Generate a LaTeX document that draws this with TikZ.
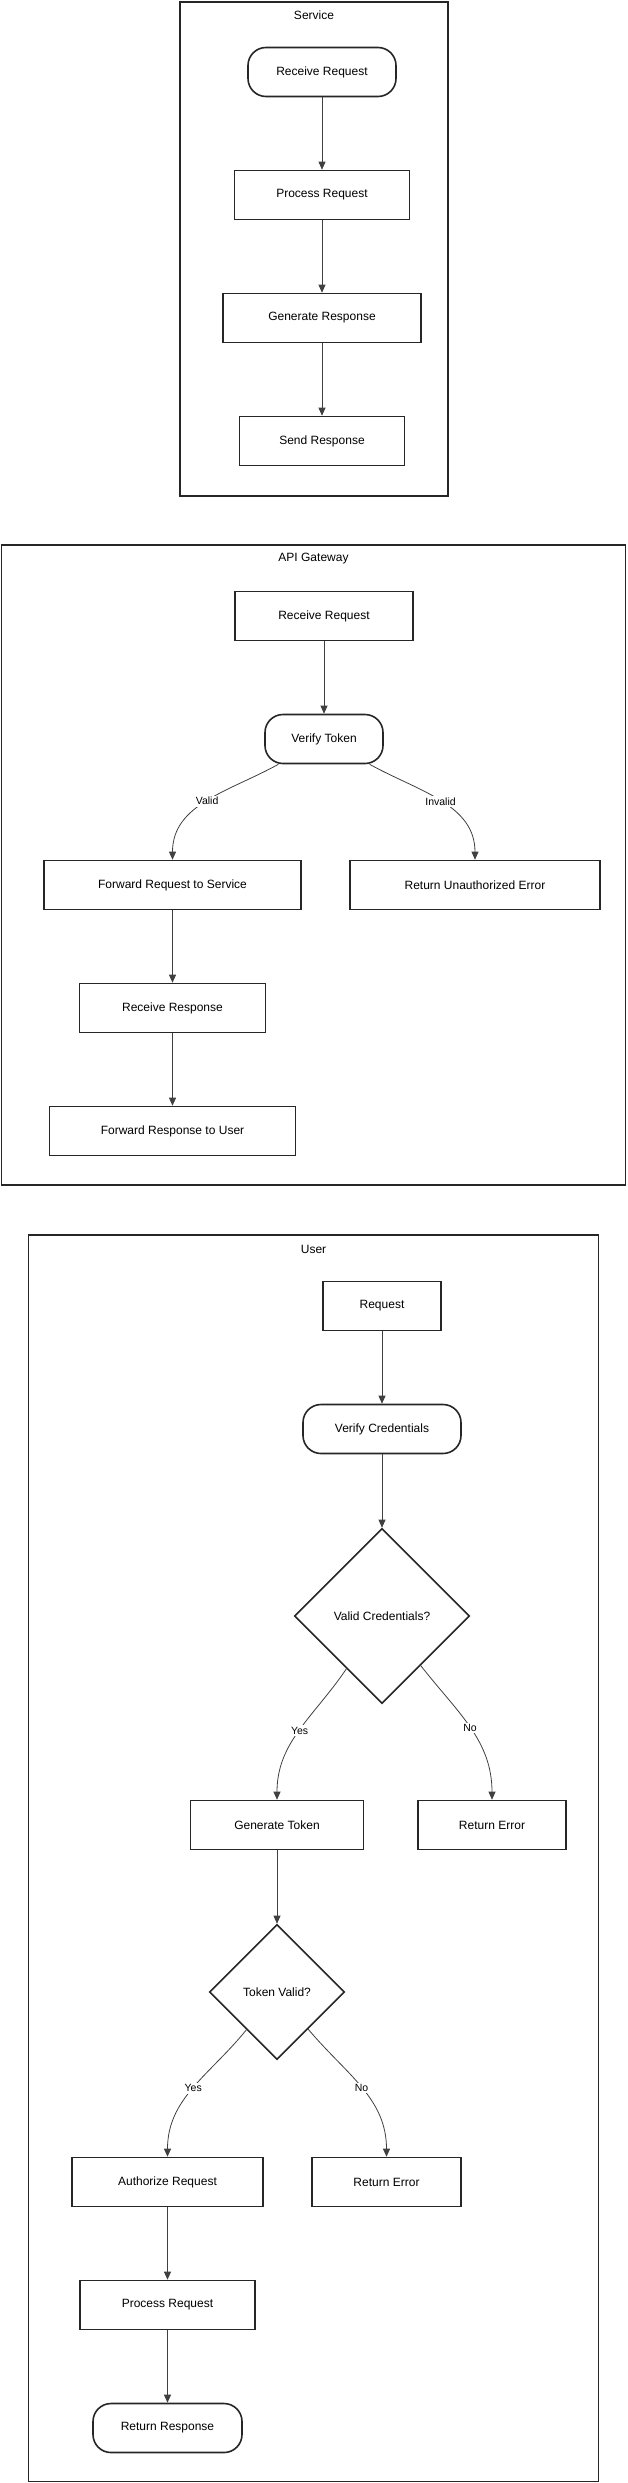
\documentclass[tikz,border=0pt]{standalone}
\usepackage{fontspec}
\setmainfont{Liberation Sans}
\usetikzlibrary{positioning,shapes.geometric,arrows.meta}

\begin{document}
\begin{tikzpicture}[
    x=1pt, y=-1pt,
    node distance=72.4pt,
    font=\fontsize{12}{14}\selectfont,
    % Node styles
    stepbox/.style={draw=black!85, line width=1.6pt, fill=white, minimum height=49pt, inner sep=2pt},
    roundbox/.style={stepbox, rounded corners=18pt},
    decision/.style={draw=black!85, line width=1.6pt, fill=white, diamond, aspect=1, inner sep=0pt},
    cluster/.style={draw=black!85, line width=1.6pt},
    title/.style={inner sep=0pt},
    arrow/.style={-{Triangle[length=8pt,width=7pt]}, line width=0.8pt, draw=black!75},
    lbl/.style={font=\fontsize{10.5}{12}\selectfont, fill=white, inner sep=1.5pt},
]
    \useasboundingbox (0,0) rectangle (627,2483);

    % Swimlane frames
    \node[cluster, minimum width=268pt, minimum height=494pt] (svcbox) at (314,249) {};
    \node[title] (svctitle) at (314,15) {Service};
    \node[cluster, minimum width=624pt, minimum height=640pt] (gwbox) at (313.5,865) {};
    \node[title] (gwtitle) at (313.5,559) {API Gateway};
    \node[cluster, minimum width=570pt, minimum height=1246.5pt] (userbox) at (313.5,1858.25) {};
    \node[title] (usertitle) at (313.5,1249) {User};

    % Service flow
    \node[roundbox, minimum width=148pt] (srecv) at (322,72) {Receive Request};
    \node[stepbox, minimum width=175pt, below=of srecv] (sproc) {Process Request};
    \node[stepbox, minimum width=198pt, below=of sproc] (sgen) {Generate Response};
    \node[stepbox, minimum width=165pt, below=of sgen] (ssend) {Send Response};

    % API gateway flow
    \node[stepbox, minimum width=178pt] (grecv) at (324,616) {Receive Request};
    \node[roundbox, minimum width=118pt, below=of grecv] (vtok) {Verify Token};
    \node[stepbox, minimum width=257pt, below=95.4pt of vtok, xshift=-151.5pt] (fwdsvc) {Forward Request to Service};
    \node[stepbox, minimum width=250pt, below=95.4pt of vtok, xshift=151pt] (unauth) {Return Unauthorized Error};
    \node[stepbox, minimum width=186pt, below=of fwdsvc] (grecvresp) {Receive Response};
    \node[stepbox, minimum width=246pt, below=of grecvresp] (fwduser) {Forward Response to User};

    % User flow
    \node[stepbox, minimum width=118pt] (ureq) at (382,1306) {Request};
    \node[roundbox, minimum width=158pt, below=of ureq] (vcred) {Verify Credentials};
    \node[decision, minimum size=175pt, below=73.4pt of vcred] (credok) {Valid Credentials?};
    \node[stepbox, minimum width=173pt, below=95.4pt of credok, xshift=-105pt] (gentok) {Generate Token};
    \node[stepbox, minimum width=148pt, below=95.4pt of credok, xshift=110pt] (credfail) {Return Error};
    \node[decision, minimum size=135pt, below=73.4pt of gentok] (tokok) {Token Valid?};
    \node[stepbox, minimum width=191pt, below=96.4pt of tokok, xshift=-109.5pt] (authreq) {Authorize Request};
    \node[stepbox, minimum width=149pt, below=96.4pt of tokok, xshift=109.5pt] (tokfail) {Return Error};
    \node[stepbox, minimum width=175pt, below=of authreq] (uproc) {Process Request};
    \node[roundbox, minimum width=149pt, below=of uproc] (uresp) {Return Response};

    % Connections
    \draw[arrow] (srecv) -- (sproc);
    \draw[arrow] (sproc) -- (sgen);
    \draw[arrow] (sgen) -- (ssend);

    \draw[arrow] (grecv) -- (vtok);
    \draw[arrow] (vtok) to[out=209, in=90] node[lbl] {Valid} (fwdsvc);
    \draw[arrow] (vtok) to[out=-29, in=90] node[lbl] {Invalid} (unauth);
    \draw[arrow] (fwdsvc) -- (grecvresp);
    \draw[arrow] (grecvresp) -- (fwduser);

    \draw[arrow] (ureq) -- (vcred);
    \draw[arrow] (vcred) -- (credok);
    \draw[arrow] (credok) to[out=236, in=90] node[lbl] {Yes} (gentok);
    \draw[arrow] (credok) to[out=-52, in=90] node[lbl] {No} (credfail);
    \draw[arrow] (gentok) -- (tokok);
    \draw[arrow] (tokok) to[out=231, in=90] node[lbl] {Yes} (authreq);
    \draw[arrow] (tokok) to[out=-50, in=90] node[lbl] {No} (tokfail);
    \draw[arrow] (authreq) -- (uproc);
    \draw[arrow] (uproc) -- (uresp);

\end{tikzpicture}
\end{document}
